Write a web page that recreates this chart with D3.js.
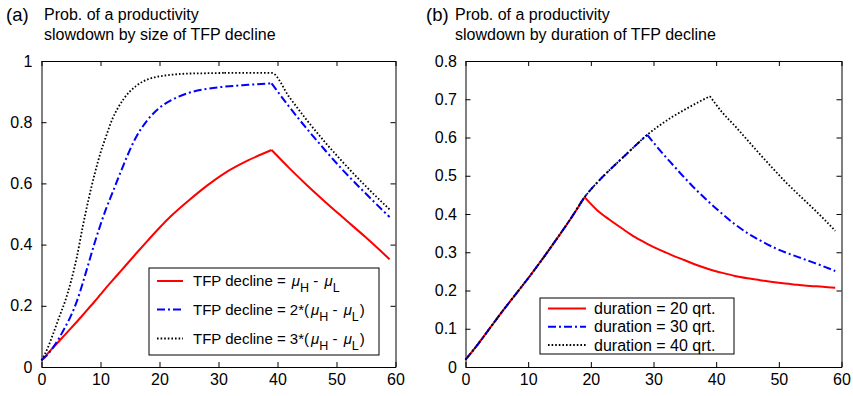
<!DOCTYPE html>
<html>
<head>
<meta charset="utf-8">
<script src="https://cdn.jsdelivr.net/npm/d3@7"></script>
<style>
  body { margin: 0; background: #fff; }
  svg { font-family: "Liberation Sans", Arial, Helvetica, sans-serif; }
</style>
</head>
<body>
<svg id="chart" width="853" height="396"></svg>
<script>
// Panel (a): probability by size of TFP decline
const quartersA = [0, 1, 2, 3, 4, 5, 6, 7, 8, 9, 10, 11, 12, 13, 14, 16, 18, 20, 22, 25, 28, 31, 35, 39, 42, 45, 48, 51, 55, 59];
const size1 = [0.022, 0.043, 0.064, 0.085, 0.106, 0.127, 0.148, 0.17, 0.192, 0.214, 0.237, 0.26, 0.282, 0.304, 0.326, 0.37, 0.413, 0.455, 0.494, 0.545, 0.592, 0.633, 0.675, 0.709, 0.65, 0.594, 0.541, 0.49, 0.423, 0.352];
const size2 = [0.022, 0.04, 0.065, 0.095, 0.13, 0.168, 0.215, 0.275, 0.34, 0.405, 0.465, 0.52, 0.568, 0.617, 0.665, 0.75, 0.808, 0.847, 0.872, 0.896, 0.909, 0.916, 0.922, 0.927, 0.85, 0.778, 0.71, 0.645, 0.566, 0.49];
const size3 = [0.022, 0.06, 0.11, 0.163, 0.215, 0.28, 0.36, 0.46, 0.55, 0.63, 0.7, 0.757, 0.81, 0.848, 0.878, 0.918, 0.94, 0.95, 0.955, 0.959, 0.96, 0.961, 0.961, 0.961, 0.882, 0.806, 0.736, 0.671, 0.59, 0.515];

// Panel (b): probability by duration of TFP decline
const quartersB = [0, 2, 4, 6, 8, 10, 12, 14, 17, 19, 21, 23, 25, 27, 29, 31, 33, 35, 37, 39, 41, 43, 45, 47, 49, 51, 53, 55, 57, 59];
const dur20 = [0.019, 0.06, 0.104, 0.148, 0.19, 0.232, 0.276, 0.322, 0.393, 0.444, 0.41, 0.385, 0.362, 0.34, 0.322, 0.306, 0.292, 0.279, 0.266, 0.255, 0.246, 0.238, 0.232, 0.227, 0.222, 0.218, 0.215, 0.212, 0.21, 0.207];
const dur30 = [0.019, 0.06, 0.104, 0.148, 0.19, 0.232, 0.276, 0.322, 0.393, 0.444, 0.482, 0.515, 0.546, 0.577, 0.607, 0.567, 0.53, 0.494, 0.46, 0.429, 0.4, 0.373, 0.35, 0.331, 0.314, 0.3, 0.288, 0.276, 0.264, 0.251];
const dur40 = [0.019, 0.06, 0.104, 0.148, 0.19, 0.232, 0.276, 0.322, 0.393, 0.444, 0.482, 0.515, 0.546, 0.577, 0.607, 0.632, 0.654, 0.673, 0.691, 0.708, 0.665, 0.63, 0.593, 0.556, 0.52, 0.485, 0.453, 0.422, 0.39, 0.356];

const xTicks = [0, 10, 20, 30, 40, 50, 60];
const yTicksA = [0, 0.2, 0.4, 0.6, 0.8, 1];
const yLabelsA = ["0", "0.2", "0.4", "0.6", "0.8", "1"];
const yTicksB = [0, 0.1, 0.2, 0.3, 0.4, 0.5, 0.6, 0.7, 0.8];
const yLabelsB = ["0", "0.1", "0.2", "0.3", "0.4", "0.5", "0.6", "0.7", "0.8"];

const styles = [
  { color: "#ff0000", width: 2, dash: null },
  { color: "#0000ff", width: 2, dash: "8,3,2,3" },
  { color: "#000000", width: 1.8, dash: "1.6,2" },
];

const svg = d3.select("#chart");

// split a series at its maximum so the kink stays sharp
function splitAtPeak(xs, ys) {
  const k = d3.maxIndex(ys);
  const pts = xs.map((x, i) => [x, ys[i]]);
  return [pts.slice(0, k + 1), pts.slice(k)];
}

function drawPanel(opt) {
  const x = d3.scaleLinear().domain([0, 60]).range([opt.left, opt.right]);
  const y = d3.scaleLinear().domain([0, opt.ymax]).range([opt.bottom, opt.top]);

  // titles
  svg.append("text")
    .attr("x", opt.tagX).attr("y", 21)
    .attr("font-size", 18.5)
    .text(opt.tag);
  svg.append("text")
    .attr("x", opt.titleX).attr("y", 20)
    .attr("font-size", 16)
    .text("Prob. of a productivity");
  svg.append("text")
    .attr("x", opt.titleX).attr("y", 39.5)
    .attr("font-size", 16)
    .text(opt.title);

  // axes, ticks pointing inward on all four sides
  const fmt = (d) => opt.yLabels[opt.yTicks.indexOf(d)];
  const axes = [
    svg.append("g")
      .attr("transform", `translate(0,${opt.bottom})`)
      .call(d3.axisBottom(x).tickValues(xTicks).tickSize(-5).tickSizeOuter(0).tickPadding(7)),
    svg.append("g")
      .attr("transform", `translate(0,${opt.top})`)
      .call(d3.axisTop(x).tickValues(xTicks).tickSize(-5).tickSizeOuter(0).tickFormat("")),
    svg.append("g")
      .attr("transform", `translate(${opt.left},0)`)
      .call(d3.axisLeft(y).tickValues(opt.yTicks).tickFormat(fmt).tickSize(-5).tickSizeOuter(0).tickPadding(opt.yPad)),
    svg.append("g")
      .attr("transform", `translate(${opt.right},0)`)
      .call(d3.axisRight(y).tickValues(opt.yTicks).tickSize(-5).tickSizeOuter(0).tickFormat("")),
  ];
  axes.forEach((a) => {
    a.attr("font-size", 16).attr("font-family", null);
    a.selectAll("text").attr("fill", "#000");
    a.selectAll("path.domain, line").attr("stroke", "#000");
  });

  const line = d3.line()
    .x((d) => x(d[0]))
    .y((d) => y(d[1]))
    .curve(d3.curveMonotoneX);

  opt.series.forEach((s, i) => {
    const st = styles[i];
    splitAtPeak(opt.quarters, s).forEach((seg) => {
      svg.append("path")
        .datum(seg)
        .attr("fill", "none")
        .attr("stroke", st.color)
        .attr("stroke-width", st.width)
        .attr("stroke-dasharray", st.dash)
        .attr("d", line);
    });
  });

  // legend
  const lg = opt.legend;
  svg.append("rect")
    .attr("x", lg.x).attr("y", lg.y)
    .attr("width", lg.w).attr("height", lg.h)
    .attr("fill", "#fff").attr("stroke", "#000").attr("stroke-width", 1);
  lg.rows.forEach((cy, i) => {
    const st = styles[i];
    svg.append("line")
      .attr("x1", lg.x + lg.l1).attr("x2", lg.x + lg.l2)
      .attr("y1", cy).attr("y2", cy)
      .attr("stroke", st.color)
      .attr("stroke-width", st.width)
      .attr("stroke-dasharray", st.dash);
    const t = svg.append("text")
      .attr("x", lg.x + lg.tx).attr("y", cy)
      .attr("dy", "0.36em")
      .attr("font-size", lg.fs);
    lg.label(t, i);
  });
}

// legend labels with mu subscripts for panel (a)
const prefixA = ["TFP decline = ", "TFP decline = 2*(", "TFP decline = 3*("];
function labelA(t, i) {
  t.append("tspan").text(prefixA[i]);
  t.append("tspan").attr("font-style", "italic").attr("dx", 2).text("\u03bc");
  t.append("tspan").attr("font-size", 12.5).attr("dy", 6).text("H");
  t.append("tspan").attr("dy", -6).text(" - ");
  t.append("tspan").attr("font-style", "italic").attr("dx", 2).text("\u03bc");
  t.append("tspan").attr("font-size", 12.5).attr("dy", 6).text("L");
  if (i > 0) t.append("tspan").attr("dy", -6).attr("dx", 1).text(")");
}

const labelsB = ["duration = 20 qrt.", "duration = 30 qrt.", "duration = 40 qrt."];

drawPanel({
  left: 41.5, right: 395.5, top: 61, bottom: 367, ymax: 1,
  yTicks: yTicksA, yLabels: yLabelsA, yPad: 9,
  tag: "(a)", tagX: 6, titleX: 44,
  title: "slowdown by size of TFP decline",
  quarters: quartersA,
  series: [size1, size2, size3],
  legend: { x: 149, y: 268, w: 230, h: 87, l1: 8, l2: 34, tx: 44, fs: 15,
    rows: [281, 309.5, 338.5], label: labelA },
});

drawPanel({
  left: 465.5, right: 841.5, top: 61, bottom: 367, ymax: 0.8,
  yTicks: yTicksB, yLabels: yLabelsB, yPad: 8.5,
  tag: "(b)", tagX: 426, titleX: 455,
  title: "slowdown by duration of TFP decline",
  quarters: quartersB,
  series: [dur20, dur30, dur40],
  legend: { x: 540, y: 298, w: 194, h: 56, l1: 8, l2: 46, tx: 54, fs: 16,
    rows: [308.5, 326.7, 345], label: (t, i) => t.text(labelsB[i]) },
});
</script>
</body>
</html>
